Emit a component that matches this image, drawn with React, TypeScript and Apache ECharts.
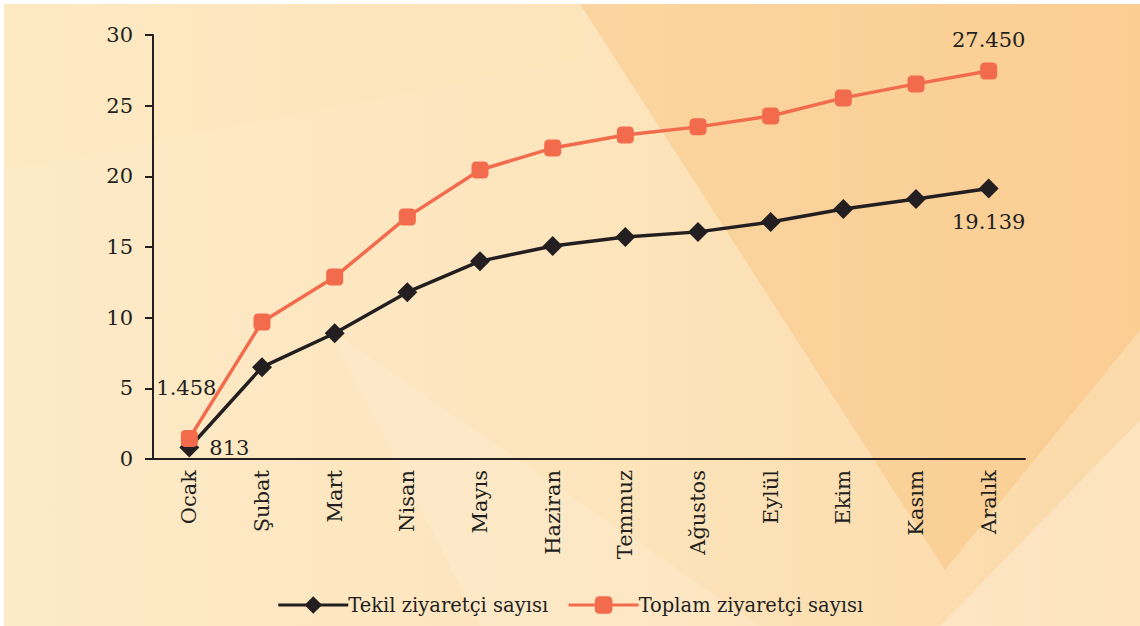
import React, { useEffect, useRef } from "react";
import * as echarts from "echarts";

const months = ["Ocak", "Şubat", "Mart", "Nisan", "Mayıs", "Haziran", "Temmuz", "Ağustos", "Eylül", "Ekim", "Kasım", "Aralık"];
const tekil = [0.813, 6.5, 8.9, 11.8, 14.0, 15.07, 15.7, 16.07, 16.77, 17.69, 18.4, 19.139];
const toplam = [1.458, 9.7, 12.88, 17.13, 20.45, 22.0, 22.93, 23.5, 24.27, 25.55, 26.54, 27.45];
const tekilName = "Tekil ziyaretçi sayısı";
const toplamName = "Toplam ziyaretçi sayısı";
const yTicks = [0, 5, 10, 15, 20, 25, 30];

const FONT = "DejaVu Serif";
const INK = "#231f20";
const ORANGE = "#f26b4c";

const fmt = (v: number) => {
  if (v < 1) return String(Math.round(v * 1000));
  return v.toFixed(3);
};

export default function App() {
  const ref = useRef<HTMLDivElement>(null);
  useEffect(() => {
    if (!ref.current) return;
    const chart = echarts.init(ref.current, undefined, { renderer: "svg" });
    const last = months.length - 1;
    chart.setOption({
      animation: false,
      textStyle: { fontFamily: FONT },
      graphic: [
        {
          type: "rect",
          z: -11,
          shape: { x: 0, y: 0, width: 1140, height: 626 },
          style: { fill: "#ffffff" },
          silent: true,
        },
        {
          type: "rect",
          z: -10,
          shape: { x: 4, y: 4, width: 1136, height: 622 },
          style: {
            fill: new echarts.graphic.LinearGradient(0, 0, 1, 0, [
              { offset: 0, color: "#fdeac7" },
              { offset: 0.5, color: "#fde5bd" },
              { offset: 1, color: "#fbd9a8" },
            ]),
          },
          silent: true,
        },
        {
          type: "polygon",
          z: -9,
          shape: { points: [[580, 4], [1140, 4], [1140, 330], [945, 570]] },
          style: { fill: "rgba(248,190,120,0.42)" },
          silent: true,
        },
        {
          type: "polygon",
          z: -9,
          shape: { points: [[4, 170], [580, 60], [580, 4], [4, 4]] },
          style: { fill: "rgba(252,225,175,0.15)" },
          silent: true,
        },
        {
          type: "polygon",
          z: -9,
          shape: { points: [[330, 330], [760, 626], [480, 626]] },
          style: { fill: "rgba(255,240,220,0.3)" },
          silent: true,
        },
        {
          type: "polygon",
          z: -9,
          shape: { points: [[1140, 420], [1140, 626], [940, 626]] },
          style: { fill: "rgba(255,238,215,0.5)" },
          silent: true,
        },
      ],
      legend: {
        bottom: 6,
        left: "center",
        itemWidth: 70,
        itemHeight: 22,
        itemGap: 19,
        lineStyle: { width: 3 },
        textStyle: { fontFamily: FONT, fontSize: 19.5, color: INK, padding: [0, 0, 0, -5] },
        data: [tekilName, toplamName],
      },
      grid: { left: 153, right: 115, top: 35, bottom: 167 },
      xAxis: {
        type: "category",
        data: months,
        boundaryGap: true,
        axisLine: { lineStyle: { color: INK, width: 2 } },
        axisTick: { length: 9, lineStyle: { color: INK, width: 2 } },
        axisLabel: { rotate: 90, margin: 11, fontSize: 21, color: INK, fontFamily: FONT },
      },
      yAxis: {
        type: "value",
        min: yTicks[0],
        max: yTicks[yTicks.length - 1],
        interval: 5,
        splitLine: { show: false },
        axisLine: { show: true, lineStyle: { color: INK, width: 2 } },
        axisTick: { show: true, length: 8, lineStyle: { color: INK, width: 2 } },
        axisLabel: { margin: 20, fontSize: 21, color: INK, fontFamily: FONT },
      },
      series: [
        {
          name: tekilName,
          type: "line",
          data: tekil.map((v, i) => {
            if (i === 0)
              return { value: v, label: { show: true, position: "right", distance: 10, formatter: () => fmt(v) } };
            if (i === last)
              return { value: v, label: { show: true, position: "bottom", distance: 13, formatter: () => fmt(v) } };
            return v;
          }),
          symbol: "diamond",
          symbolSize: 20,
          lineStyle: { color: INK, width: 3.5 },
          itemStyle: { color: INK },
          label: { fontFamily: FONT, fontSize: 21, color: INK },
          z: 2,
        },
        {
          name: toplamName,
          type: "line",
          data: toplam.map((v, i) => {
            if (i === 0)
              return { value: v, label: { show: true, position: "top", distance: 31, offset: [-3, 0], formatter: () => fmt(v) } };
            if (i === last)
              return { value: v, label: { show: true, position: "top", distance: 12, formatter: () => fmt(v) } };
            return v;
          }),
          symbol: "roundRect",
          symbolSize: 17,
          lineStyle: { color: ORANGE, width: 3.5 },
          itemStyle: { color: ORANGE },
          label: { fontFamily: FONT, fontSize: 21, color: INK },
          z: 3,
        },
      ],
    });
    return () => chart.dispose();
  }, []);
  return <div ref={ref} style={{ width: 1140, height: 626, position: "absolute", left: 0, top: 0 }} />;
}
